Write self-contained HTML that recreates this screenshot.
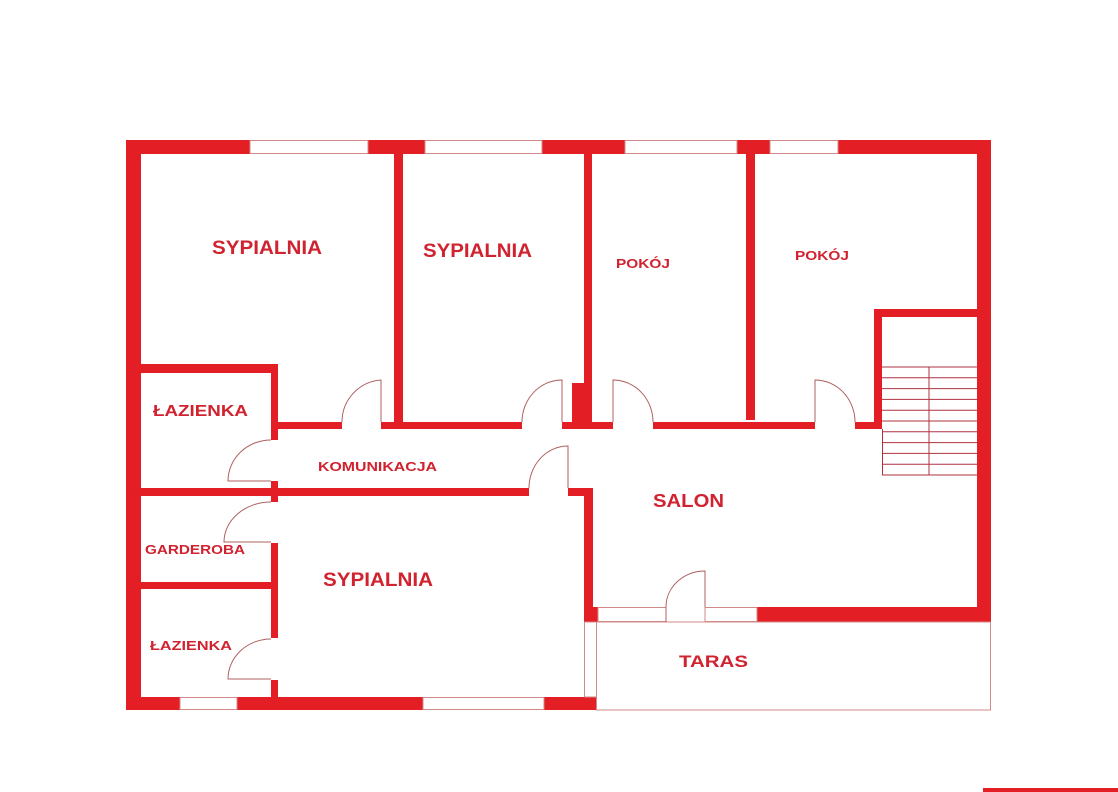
<!DOCTYPE html>
<html><head><meta charset="utf-8"><style>
html,body{margin:0;padding:0;background:#fff;}
svg{display:block;}
text{font-family:"Liberation Sans",sans-serif;font-weight:bold;fill:#d12230;}
</style></head><body>
<svg width="1118" height="792" viewBox="0 0 1118 792" xmlns="http://www.w3.org/2000/svg">
<g fill="#e31e24">
<!-- outer walls -->
<rect x="126" y="140" width="865" height="14"/>
<rect x="126" y="140" width="15" height="570"/>
<rect x="977" y="140" width="14" height="482"/>
<rect x="126" y="697" width="471" height="13"/>
<!-- interior verticals -->
<rect x="394" y="154" width="9" height="275"/>
<rect x="584" y="154" width="8" height="275"/>
<rect x="572" y="383" width="12" height="46"/>
<rect x="746" y="154" width="9" height="266"/>
<!-- corridor top wall -->
<rect x="276" y="422" width="66" height="7"/>
<rect x="381" y="422" width="141" height="7"/>
<rect x="562" y="422" width="51" height="7"/>
<rect x="653" y="422" width="162" height="7"/>
<rect x="855" y="422" width="27" height="7"/>
<!-- stairs enclosure -->
<rect x="874" y="309" width="8" height="120"/>
<rect x="874" y="309" width="103" height="8"/>
<!-- lazienka 1 -->
<rect x="141" y="364" width="137" height="9"/>
<rect x="271" y="364" width="7" height="76"/>
<rect x="271" y="481" width="7" height="21"/>
<!-- corridor bottom wall -->
<rect x="141" y="488" width="388" height="8"/>
<rect x="568" y="488" width="24" height="8"/>
<rect x="584" y="488" width="9" height="134"/>
<rect x="593" y="607" width="5" height="15"/>
<!-- garderoba / lazienka 2 -->
<rect x="271" y="543" width="7" height="95"/>
<rect x="141" y="582" width="137" height="7"/>
<rect x="271" y="680" width="7" height="17"/>
<!-- salon bottom -->
<rect x="757" y="607" width="234" height="15"/>
<!-- bottom right bar -->
<rect x="983" y="788" width="135" height="4"/>
</g>
<!-- windows -->
<g fill="#fff" stroke="#d08a8a" stroke-width="1">
<rect x="250" y="140.5" width="118" height="13"/>
<rect x="425" y="140.5" width="117" height="13"/>
<rect x="625" y="140.5" width="112" height="13"/>
<rect x="770" y="140.5" width="68" height="13"/>
<rect x="180" y="697.5" width="57" height="12"/>
<rect x="423" y="697.5" width="121" height="12"/>
<rect x="598" y="607.5" width="68" height="14"/>
<rect x="705" y="607.5" width="52" height="14"/>
<rect x="584.5" y="622" width="12" height="75"/>
<rect x="596.5" y="622" width="394" height="88"/>
</g>
<!-- doors -->
<g fill="none" stroke="#b06060" stroke-width="1">
<path d="M381,422 L381,380 A42,42 0 0 0 342,422"/>
<path d="M562,422 L562,380 A40,42 0 0 0 522,422"/>
<path d="M613,422 L613,380 A40,42 0 0 1 653,422"/>
<path d="M815,422 L815,380 A40,42 0 0 1 855,422"/>
<path d="M271,481 L228,481 A43,41 0 0 1 271,440"/>
<path d="M568,488 L568,446 A39,42 0 0 0 529,488"/>
<path d="M271,542 L224,542 A47,40 0 0 1 271,502"/>
<path d="M271,679 L228,679 A43,40 0 0 1 271,639"/>
<path d="M705,607 L705,571 A39,36 0 0 0 666,607 L666,622"/>
</g>
<!-- stairs -->
<g stroke="#b03040" stroke-width="1">
<line x1="882" y1="367" x2="977" y2="367"/>
<line x1="882" y1="377.8" x2="977" y2="377.8"/>
<line x1="882" y1="388.6" x2="977" y2="388.6"/>
<line x1="882" y1="399.4" x2="977" y2="399.4"/>
<line x1="882" y1="410.2" x2="977" y2="410.2"/>
<line x1="882" y1="421" x2="977" y2="421"/>
<line x1="882" y1="431.8" x2="977" y2="431.8"/>
<line x1="882" y1="442.6" x2="977" y2="442.6"/>
<line x1="882" y1="453.4" x2="977" y2="453.4"/>
<line x1="882" y1="464.2" x2="977" y2="464.2"/>
<line x1="882" y1="475" x2="977" y2="475"/>
<line x1="882.5" y1="429" x2="882.5" y2="475"/>
<line x1="929" y1="367" x2="929" y2="475"/>
</g>
<!-- labels -->
<text x="212" y="254" font-size="19" textLength="110" lengthAdjust="spacingAndGlyphs">SYPIALNIA</text>
<text x="423" y="257" font-size="19" textLength="109" lengthAdjust="spacingAndGlyphs">SYPIALNIA</text>
<text x="616" y="268" font-size="13" textLength="54" lengthAdjust="spacingAndGlyphs">POKÓJ</text>
<text x="795" y="260" font-size="13" textLength="54" lengthAdjust="spacingAndGlyphs">POKÓJ</text>
<text x="153" y="416" font-size="16" textLength="95" lengthAdjust="spacingAndGlyphs">ŁAZIENKA</text>
<text x="318" y="471" font-size="13" textLength="119" lengthAdjust="spacingAndGlyphs">KOMUNIKACJA</text>
<text x="653" y="507" font-size="18" textLength="71" lengthAdjust="spacingAndGlyphs">SALON</text>
<text x="145" y="554" font-size="13" textLength="100" lengthAdjust="spacingAndGlyphs">GARDEROBA</text>
<text x="323" y="586" font-size="19" textLength="110" lengthAdjust="spacingAndGlyphs">SYPIALNIA</text>
<text x="150" y="650" font-size="13" textLength="82" lengthAdjust="spacingAndGlyphs">ŁAZIENKA</text>
<text x="679" y="667" font-size="17" textLength="69" lengthAdjust="spacingAndGlyphs">TARAS</text>
</svg>
</body></html>
